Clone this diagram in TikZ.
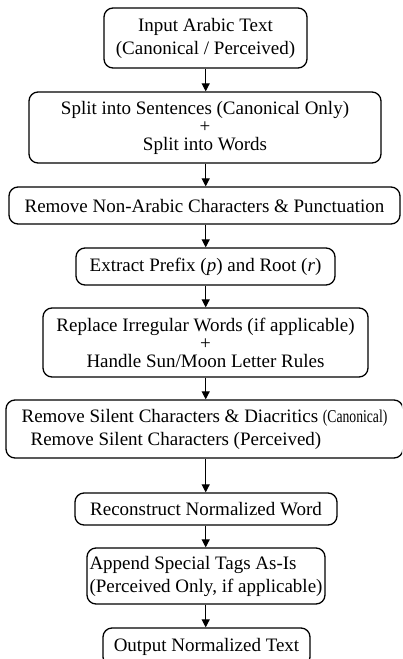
\documentclass[tikz,border=0pt]{standalone}
\usepackage{fontspec}
\setmainfont{Liberation Serif}
\usepackage{graphicx}
\usetikzlibrary{arrows.meta}
\begin{document}
\begin{tikzpicture}[x=1pt,y=-1pt,
  box/.style={draw, line width=1.3pt, rounded corners=9pt, align=center,
    inner sep=0pt, font=\fontsize{19}{23}\selectfont},
  arr/.style={-{Triangle[length=8pt,width=8pt]}, line width=1.2pt}]
\useasboundingbox (0,0) rectangle (402,659);
\clip (0,0) rectangle (402,659);
\node[box, minimum width=203pt, minimum height=60pt] (b1) at (205.5,38)
  {Input Arabic Text\\(Canonical / Perceived)};
\node[box, minimum width=352pt, minimum height=71pt] (b2) at (205,127.5)
  {Split into Sentences (Canonical Only)\\[-5pt]+\\[-5pt]Split into Words};
\node[box, minimum width=391pt, minimum height=37pt] (b3) at (204.5,205.5)
  {Remove Non-Arabic Characters \& Punctuation};
\node[box, minimum width=259pt, minimum height=37pt] (b4) at (205.5,266.5)
  {Extract Prefix (\textit{p}) and Root (\textit{r})};
\node[box, minimum width=325pt, minimum height=69pt] (b5) at (205.5,342.5)
  {Replace Irregular Words (if applicable)\\[-5pt]+\\[-5pt]Handle Sun/Moon Letter Rules};
\node[box, minimum width=397pt, minimum height=58pt, align=left] (b6) at (204.5,429)
  {Remove Silent Characters \& Diacritics \scalebox{0.72}[0.95]{(Canonical)}\\\hspace*{9pt}Remove Silent Characters (Perceived)};
\node[box, minimum width=262pt, minimum height=32pt] (b7) at (206,509)
  {Reconstruct Normalized Word};
\node[box, minimum width=238pt, minimum height=56pt, align=left] (b8) at (206,576)
  {Append Special Tags As-Is\\(Perceived Only, if applicable)};
\node[box, minimum width=207pt, minimum height=38pt] (b9) at (206.5,647)
  {Output Normalized Text};
\coordinate (ax) at (205.7,0);
\foreach \a/\b in {b1/b2,b2/b3,b3/b4,b4/b5,b5/b6,b6/b7,b7/b8,b8/b9}
  \draw[arr] (ax |- \a.south) -- (ax |- \b.north);
\end{tikzpicture}
\end{document}
